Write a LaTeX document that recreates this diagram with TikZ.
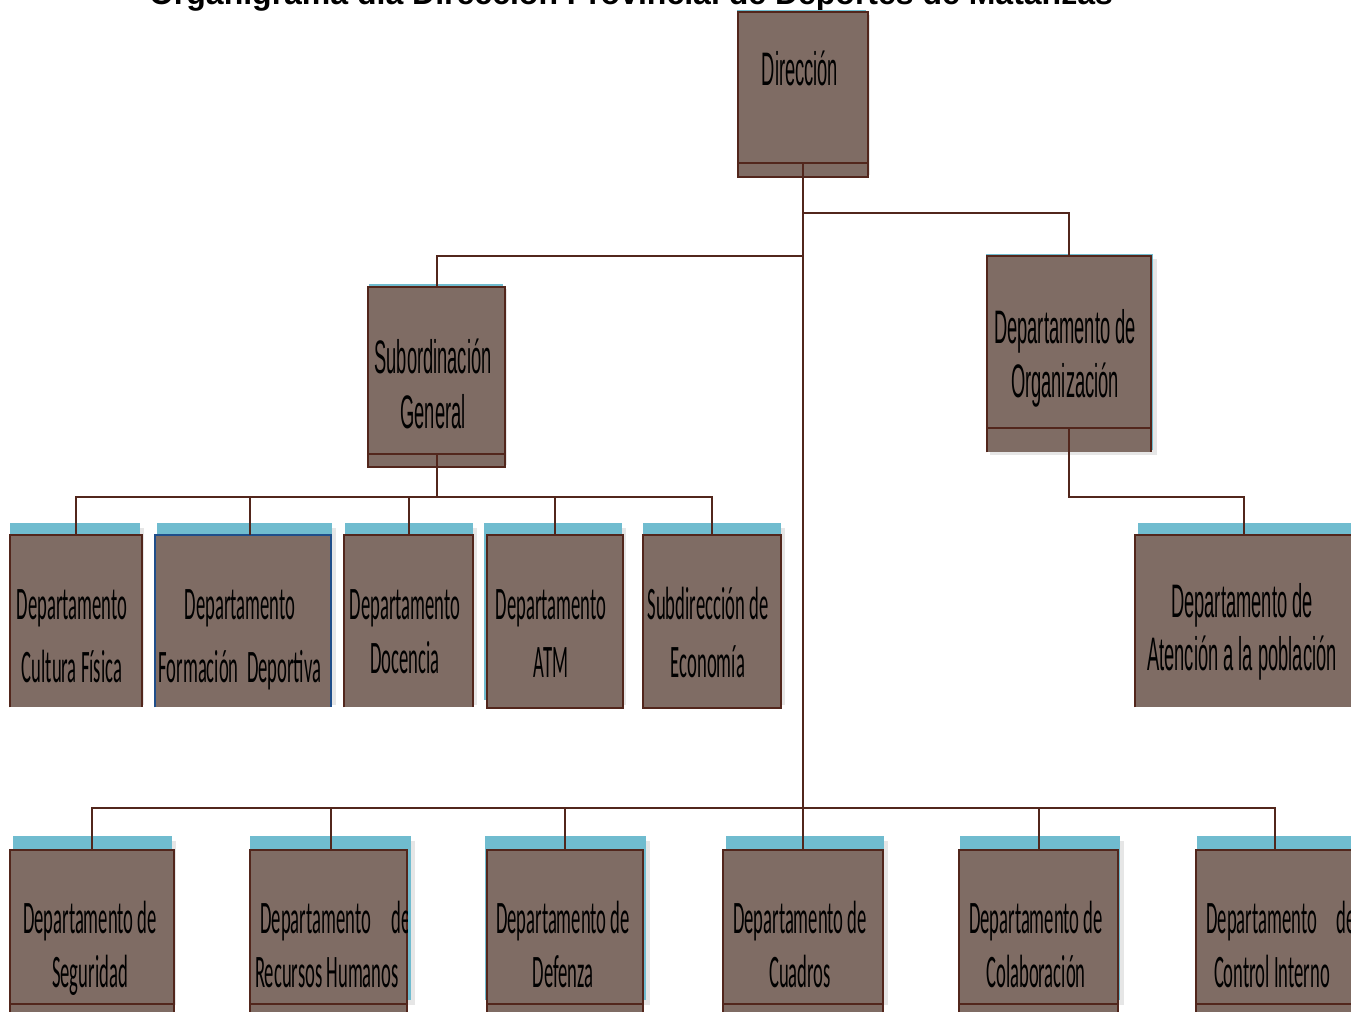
\documentclass[tikz,border=0pt]{standalone}
\usepackage{fontspec}
\usetikzlibrary{fit}
\newfontfamily\headfont{Liberation Sans}
\newfontfamily\arialnarrow[FakeStretch=0.39]{Liberation Sans}
\newfontfamily\calnarrow[FakeStretch=0.40]{Carlito}

\definecolor{boxfill}{RGB}{127,108,100}
\definecolor{linebrown}{RGB}{82,38,28}
\definecolor{tabcyan}{RGB}{112,188,207}
\definecolor{edgeblue}{RGB}{31,78,138}
\definecolor{shade}{RGB}{230,230,230}

\tikzset{
  orgbox/.style={fill=boxfill, draw=linebrown, line width=1pt, inner sep=0pt},
  openbox/.style={fill=boxfill, inner sep=0pt},
  edge/.style={draw=linebrown, line width=1pt},
  conn/.style={draw=linebrown, line width=1pt},
  tab/.style={fill=tabcyan},
  shadowrect/.style={fill=shade},
  alab/.style={font=\arialnarrow\fontsize{23.5}{27}\selectfont, anchor=base, inner sep=0pt, text=black},
  clab/.style={font=\calnarrow\fontsize{23.3}{27}\selectfont, anchor=base, inner sep=0pt, text=black},
}

% two text lines of one box, centred at x, on baselines y1 and y2
\newcommand\orgtwo[7]{%
  \node[#2] (#1-a) at (#3,#4) {#6};
  \node[#2] (#1-b) at (#3,#5) {#7};}

% cyan tab with its light shadow behind a box
\newcommand\orgtab[4]{%
  \fill[shadowrect] (#1+4,#2+5) rectangle (#3+4,#4+5);
  \fill[tab] (#1,#2) rectangle (#3,#4);}

\begin{document}
\begin{tikzpicture}[x=0.5pt,y=-0.5pt]
\useasboundingbox (0,0) rectangle (1351,1012);

% title
\node[font=\headfont\bfseries\fontsize{16}{19}\selectfont, anchor=base, inner sep=0pt] (title) at (631,4)
  {Organigrama dia Dirección Provincial de Deportes de Matanzas};

% tabs
\orgtab{737}{10}{866}{170}
\orgtab{369}{284}{503}{460}
\orgtab{986}{254}{1153}{450}
\orgtab{10}{523}{140}{700}
\orgtab{157}{523}{332}{700}
\orgtab{345}{523}{473}{700}
\orgtab{484}{523}{622}{700}
\orgtab{643}{523}{781}{700}
\orgtab{1138}{523}{1355}{700}
\orgtab{13}{836}{172}{1000}
\orgtab{250}{836}{411}{1000}
\orgtab{485}{836}{646}{1000}
\orgtab{726}{836}{884}{1000}
\orgtab{960}{836}{1120}{1000}
\orgtab{1197}{836}{1355}{1000}

% top levels
\node[orgbox, fit={(738,12)(868,177)}] (dir) {};
\draw[edge] ([yshift=7.5pt]dir.south west) -- ([yshift=7.5pt]dir.south east);
\node[orgbox, fit={(368,287)(505,467)}] (sub) {};
\draw[edge] ([yshift=7pt]sub.south west) -- ([yshift=7pt]sub.south east);
\node[openbox, fit={(987,256)(1151,452)}] (org) {};
\draw[edge] (org.south west) |- (org.north east) -- (org.south east);
\draw[edge] ([yshift=12pt]org.south west) -- ([yshift=12pt]org.south east);

% second row
\node[openbox, fit={(10,535)(142,707)}] (cf) {};
\draw[edge] (cf.south west) |- (cf.north east) -- (cf.south east);
\node[openbox, fit={(155,535)(331,707)}] (fd) {};
\draw[edge, draw=edgeblue] (fd.south west) |- (fd.north east) -- (fd.south east);
\node[openbox, fit={(344,535)(473,707)}] (do) {};
\draw[edge] (do.south west) |- (do.north east) -- (do.south east);
\node[orgbox, fit={(487,535)(623,708)}] (atm) {};
\node[orgbox, fit={(643,535)(781,708)}] (ec) {};
\node[openbox, fit={(1135,535)(1353,707)}] (at) {};
\draw[edge] (at.south west) |- (at.north east) -- (at.south east);

% bottom row
\foreach \n/\xa/\xb in {se/10/174, rh/250/407, de/487/643, cu/723/883, co/959/1118, ci/1196/1354}{
  \node[orgbox, fit={(\xa,850)(\xb,1020)}] (\n) {};
  \draw[edge] ([yshift=8.5pt]\n.south west) -- ([yshift=8.5pt]\n.south east);
}

% texts
\node[alab] (dir-t) at (800,85) {Dirección};
\orgtwo{sub}{alab}{433}{373}{428}{Subordinación}{General}
\orgtwo{org}{alab}{1065}{343}{397}{Departamento de}{Organización}
\orgtwo{at}{alab}{1242}{617}{670}{Departamento de}{Atención a la población}
\orgtwo{cf}{clab}{72}{619}{682}{Departamento}{Cultura Física}
\orgtwo{fd}{clab}{240}{619}{682}{Departamento}{Formación~~Deportiva}
\orgtwo{do}{clab}{405}{619}{673}{Departamento}{Docencia}
\orgtwo{atm}{clab}{551}{619}{677}{Departamento}{ATM}
\orgtwo{ec}{clab}{708}{619}{677}{Subdirección de}{Economía}
\orgtwo{se}{clab}{90}{933}{987}{Departamento de}{Seguridad}
\begin{scope}
  \clip (250,850) rectangle (407,1003);
  \node[clab, anchor=base west] (rh-a) at (260,933) {Departamento\hspace{10.5pt}de};
\end{scope}
\node[clab] (rh-b) at (327,987) {Recursos Humanos};
\orgtwo{de}{clab}{563}{933}{987}{Departamento de}{Defenza}
\orgtwo{cu}{clab}{800}{933}{987}{Departamento de}{Cuadros}
\orgtwo{co}{clab}{1036}{933}{987}{Departamento de}{Colaboración}
\node[clab, anchor=base west] (ci-a) at (1206,933) {Departamento\hspace{10pt}de};
\node[clab] (ci-b) at (1272,987) {Control Interno};

% connectors
\coordinate (j1) at (802,213);
\coordinate (j2) at (802,256);
\coordinate (j3) at (802,808);
\coordinate (sj) at (435,497);
\coordinate (oj) at (1068,497);

\draw[conn] ([yshift=7.5pt]dir.south) -- (cu.north);
\draw[conn] (j1) -| (org.north);
\draw[conn] (j2) -| (sub.north);

\draw[conn] ([yshift=7pt]sub.south) -- (sub.south |- sj);
\draw[conn] (cf.north) -- (cf.north |- sj) -- (ec.north |- sj) -- (ec.north);
\draw[conn] ([xshift=3.5pt]fd.north) -- ([xshift=3.5pt]fd.north |- sj);
\draw[conn] (do.north) -- (do.north |- sj);
\draw[conn] (atm.north) -- (atm.north |- sj);

\draw[conn] ([yshift=12pt]org.south) -- (org.south |- oj) -| (at.north);

\draw[conn] (se.north) -- (se.north |- j3) -- (ci.north |- j3) -- (ci.north);
\draw[conn] ([xshift=1.25pt]rh.north) -- ([xshift=1.25pt]rh.north |- j3);
\draw[conn] (de.north) -- (de.north |- j3);
\draw[conn] (co.north) -- (co.north |- j3);
\end{tikzpicture}
\end{document}
